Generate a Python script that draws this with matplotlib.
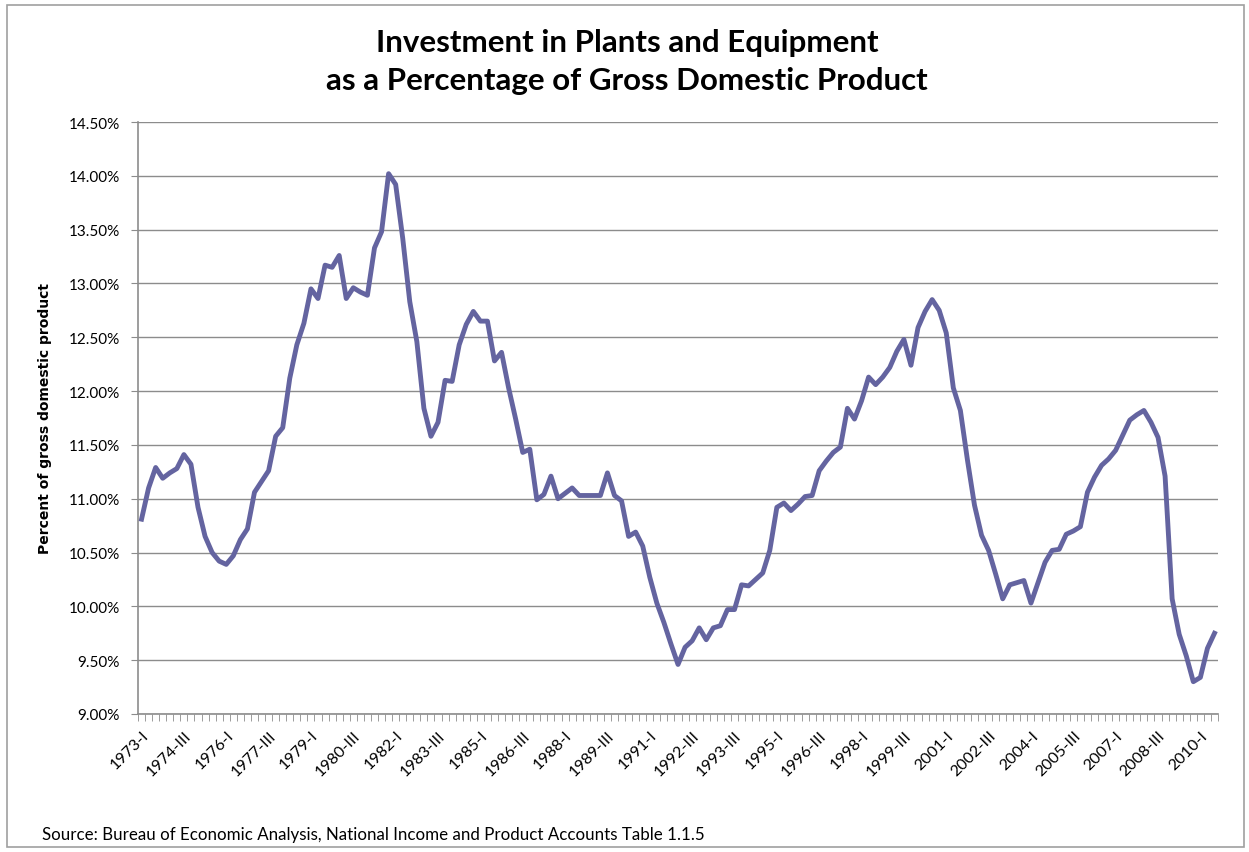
import matplotlib
matplotlib.use('Agg')
import matplotlib.pyplot as plt
from matplotlib.patches import Rectangle
from matplotlib.ticker import FixedLocator, FuncFormatter

# investment in plants & equipment, % of GDP, quarterly
values = [
    10.81, 11.10, 11.29, 11.19, 11.24, 11.28, 11.41, 11.32, 10.92, 10.65,
    10.50, 10.42, 10.39, 10.47, 10.62, 10.72, 11.06, 11.16, 11.26, 11.58,
    11.66, 12.12, 12.43, 12.63, 12.95, 12.86, 13.17, 13.15, 13.26, 12.86,
    12.96, 12.92, 12.89, 13.33, 13.48, 14.02, 13.92, 13.42, 12.83, 12.46,
    11.84, 11.58, 11.71, 12.10, 12.09, 12.43, 12.62, 12.74, 12.65, 12.65,
    12.28, 12.36,
    12.03, 11.74, 11.43, 11.46, 10.99, 11.04, 11.21, 11.00, 11.05, 11.10,
    11.03, 11.03, 11.03, 11.03, 11.24, 11.03, 10.98, 10.65, 10.69, 10.56,
    10.27, 10.03, 9.85, 9.65, 9.46, 9.62, 9.68, 9.80, 9.69, 9.80,
    9.82, 9.97, 9.97, 10.20, 10.19,
    10.25, 10.31, 10.52, 10.92, 10.96, 10.89, 10.95, 11.02, 11.03, 11.26,
    11.35, 11.43, 11.48, 11.84, 11.74, 11.91, 12.13, 12.06, 12.13, 12.22,
    12.37, 12.48, 12.24, 12.59, 12.74, 12.85, 12.75, 12.54, 12.03, 11.82,
    11.36, 10.94, 10.66, 10.52,
    10.30, 10.07, 10.20, 10.22, 10.24, 10.03, 10.22, 10.41, 10.52, 10.53,
    10.67, 10.70, 10.74, 11.06, 11.20, 11.31, 11.37, 11.45, 11.59, 11.73,
    11.78, 11.82, 11.71, 11.57, 11.21, 10.07, 9.74, 9.54, 9.30, 9.34,
    9.61, 9.75,
]

# labels shown on the category axis (every 6th category)
tick_labels = [
    '1973-I', '1974-III', '1976-I', '1977-III', '1979-I', '1980-III',
    '1982-I', '1983-III', '1985-I', '1986-III', '1988-I', '1989-III',
    '1991-I', '1992-III', '1993-III', '1995-I', '1996-III', '1998-I',
    '1999-III', '2001-I', '2002-III', '2004-I', '2005-III', '2007-I',
    '2008-III', '2010-I',
]
y_ticks = [9.0, 9.5, 10.0, 10.5, 11.0, 11.5, 12.0, 12.5, 13.0, 13.5, 14.0, 14.5]

plt.rcParams['font.family'] = ['Lato', 'DejaVu Sans']

fig = plt.figure(figsize=(12.49, 8.53), dpi=100)
ax = fig.add_axes([0.1105, 0.1618, 0.8647, 0.694])

n = len(values)
x = list(range(n))
ax.plot(x, values, color='#6464a0', lw=3.5, solid_joinstyle='round', zorder=3)

ax.set_xlim(-0.5, n - 0.5)
ax.set_ylim(9.0, 14.5)

# y axis
ax.yaxis.set_major_locator(FixedLocator(y_ticks))
ax.yaxis.set_major_formatter(FuncFormatter(lambda v, p: '%.2f%%' % v))
ax.grid(axis='y', color='#8c8c8c', lw=1.0, zorder=1)
ax.tick_params(axis='y', length=5, color='#8c8c8c', labelsize=11, pad=8)

# x axis: tick marks between categories, labels on every 6th category
ax.set_xticks(list(range(0, n, 6)))
ax.set_xticklabels(tick_labels, rotation=45, ha='right', rotation_mode='anchor')
ax.set_xticks([k - 0.5 for k in range(n + 1)], minor=True)
ax.tick_params(axis='x', which='major', length=0, labelsize=11.5, pad=10)
ax.tick_params(axis='x', which='minor', length=5, color='#8c8c8c')

for s in ['top', 'right']:
    ax.spines[s].set_visible(False)
for s in ['left', 'bottom']:
    ax.spines[s].set_color('#8c8c8c')
    ax.spines[s].set_linewidth(1.2)

ax.set_ylabel('Percent of gross domestic product', fontsize=10, fontweight='bold',
              family=['Liberation Sans Narrow', 'DejaVu Sans'], labelpad=12)

fig.text(0.502, 0.950, 'Investment in Plants and Equipment', ha='center', va='center',
         fontsize=22.5, fontweight='bold')
fig.text(0.502, 0.905, 'as a Percentage of Gross Domestic Product', ha='center', va='center',
         fontsize=22.5, fontweight='bold')
fig.text(0.034, 0.021, 'Source: Bureau of Economic Analysis, National Income and Product Accounts Table 1.1.5',
         ha='left', va='center', fontsize=12.2)

# chart area border
fig.patches.append(Rectangle((0.0056, 0.006), 0.9904, 0.987, transform=fig.transFigure,
                             fill=False, edgecolor='#a0a0a0', lw=1.2))

fig.savefig('out.png', dpi=100)
